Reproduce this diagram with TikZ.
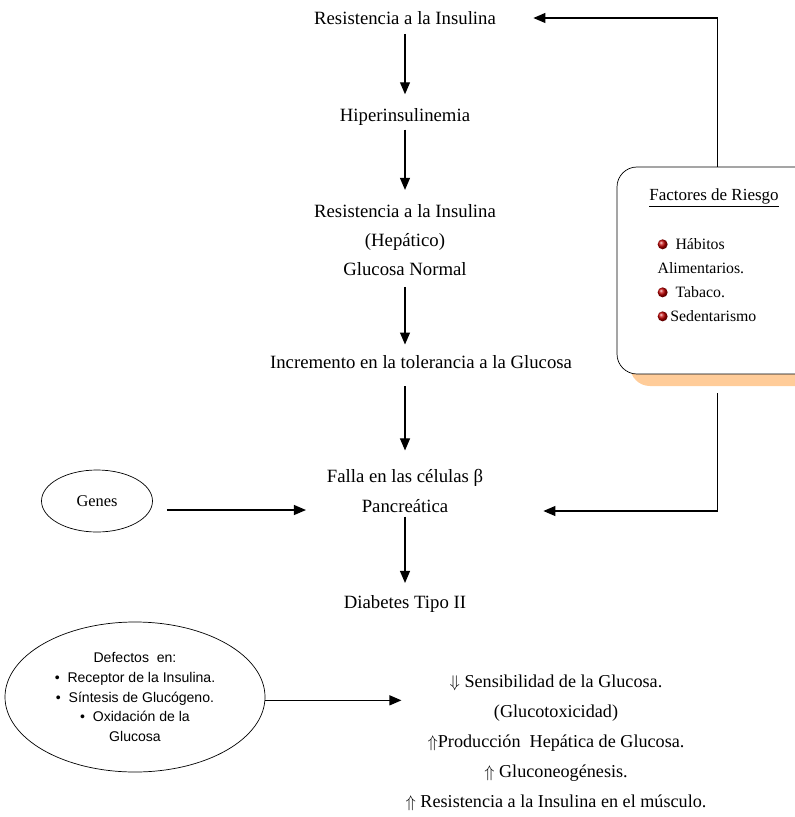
\documentclass[tikz,border=0pt]{standalone}
\usepackage{amsmath}
\usepackage{amssymb}
\usepackage{fontspec}
\setmainfont{Liberation Serif}
\newfontfamily\arialfont{Liberation Sans}
\usepackage{tikz}
\usetikzlibrary{arrows.meta,shapes.geometric,shadows}

\newcommand{\rball}{\tikz[baseline=-0.7ex,x=1cm,y=1cm]\shade[ball color=red!75!black] (0,0) circle (0.15cm);}

\begin{document}
\begin{tikzpicture}[x=0.03cm, y=-0.03cm,
    txt/.style={font=\fontsize{16}{25}\selectfont, align=center, inner sep=0.12cm},
    arr/.style={-{Triangle[length=0.36cm, width=0.3cm]}, line width=0.9pt},
    oval/.style={draw, ellipse, line width=0.6pt}]
                \useasboundingbox (0,0) rectangle (795,817);

                \node[txt] (res1) at (405, 18) {Resistencia a la Insulina};
                \node[txt] (hip) at (405, 117) {Hiperinsulinemia};
                \node[txt] (res2) at (405, 240) {Resistencia a la Insulina\\(Hepático)\\Glucosa Normal};
                \node[txt] (inc) at (421, 362) {Incremento en la tolerancia a la Glucosa};
                \node[txt] (falla) at (405, 491) {Falla en las células β\\Pancreática};
                \node[txt] (dia) at (405, 604) {Diabetes Tipo II};

                \node[oval, minimum width=3.33cm, minimum height=1.86cm, font=\fontsize{14}{16}\selectfont] (genes) at (97, 501) {Genes};

                \node[draw, line width=0.6pt, rounded corners=0.6cm, fill=white, minimum width=6.03cm, minimum height=6.21cm,
                      drop shadow={shadow xshift=0.39cm, shadow yshift=-0.36cm, fill=orange!40, opacity=1}] (risk) at (717.5, 270.5) {};
                \node[font=\fontsize{14.5}{16}\selectfont] (riskt) at (714, 198) {\underline{Factores de Riesgo}};
                \node[font=\fontsize{13.5}{20.5}\selectfont, align=left] (riskl) at (707, 280) {\rball\ \ Hábitos\\Alimentarios.\\\rball\ \ Tabaco.\\\rball\,Sedentarismo};

                \node[oval, minimum width=7.8cm, minimum height=4.5cm, align=center, font=\arialfont\fontsize{12}{17}\selectfont] (defectos) at (135, 697)
                    {Defectos\ \ en:\\ • \ Receptor de la Insulina.\\ • \ Síntesis de Glucógeno.\\ • \ Oxidación de la\\Glucosa};

                \node[font=\fontsize{15.5}{25.5}\selectfont, align=center] (efectos) at (556, 743)
                    {$\Downarrow$ Sensibilidad de la Glucosa.\\(Glucotoxicidad)\\$\Uparrow$Producción\ \ Hepática de Glucosa.\\$\Uparrow$ Gluconeogénesis.\\$\Uparrow$ Resistencia a la Insulina en el músculo.};

                \draw[arr, shorten <=0.15cm, shorten >=0.3cm] (res1) -- (hip);
                \draw[arr, shorten >=0.3cm] (hip) -- (res2);
                \draw[arr, shorten <=0.2cm, shorten >=0.2cm] (res2.south) -- (res2.south |- inc.north);
                \draw[arr, shorten <=0.4cm, shorten >=0.45cm] (falla.north |- inc.south) -- (falla.north);
                \draw[arr, shorten >=0.25cm] (falla) -- (dia);

                \draw[arr] (risk.north) |- ([xshift=1cm]res1.east);
                \draw[arr, shorten <=0.57cm] (risk.south) |- ([xshift=1.68cm, yshift=-0.6cm]falla.east);
                \draw[arr, shorten <=0.42cm, shorten >=0.5cm] ([yshift=-0.27cm]genes.east) -- ([yshift=-0.27cm]genes.east -| falla.west);
                \draw[arr] ([yshift=-0.1cm]defectos.east) -- ([yshift=-0.1cm]defectos.east -| efectos.west);
            \end{tikzpicture}
\end{document}
